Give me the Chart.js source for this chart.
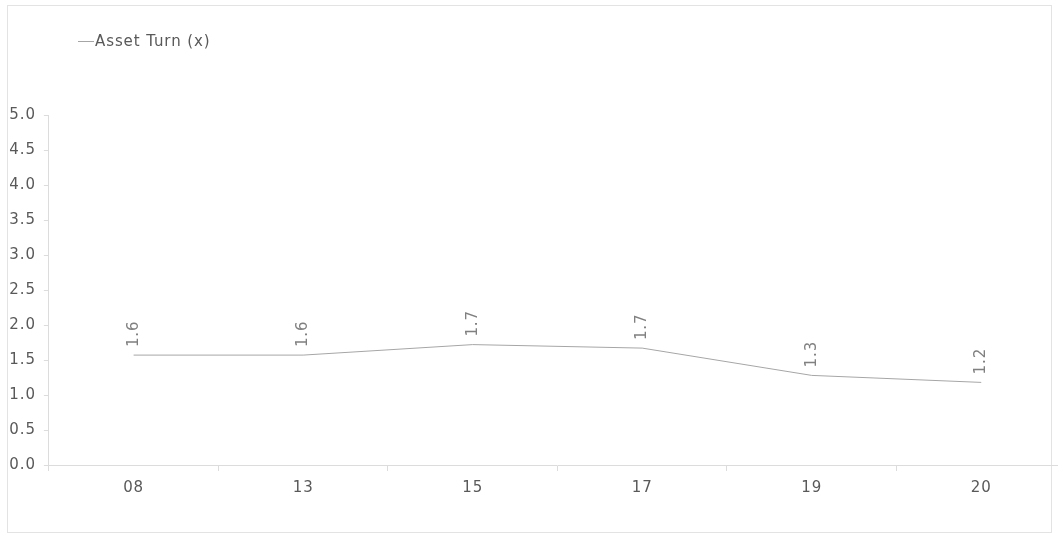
<!DOCTYPE html>
<html lang="en">
  <head>
    <meta charset="utf-8">
    <title>Asset Turn</title>
    <script src="https://cdn.jsdelivr.net/npm/chart.js"></script>
    <style>
      html, body {
        margin: 0;
        padding: 0;
        background: #fff;
        overflow: hidden;
      }
      #frame {
        position: absolute;
        left: 7px;
        top: 5px;
        width: 1043px;
        height: 526px;
        border: 1px solid #e3e3e3;
      }
      #wrap {
        position: absolute;
        left: 0;
        top: 0;
        width: 1066px;
        height: 533px;
      }
    </style>
  </head>
  <body>
    <div id="frame"></div>
    <div id="wrap"><canvas id="chart"></canvas></div>

    <script>
      // Data
      const years = ["08", "13", "15", "17", "19", "20"];
      const assetTurn = [1.57, 1.57, 1.72, 1.67, 1.28, 1.18];
      const seriesName = "Asset Turn (x)";

      const FONT = "'DejaVu Sans', Verdana, sans-serif";
      const FONT_SIZE = 15;
      const SPACING = "0.9px";
      const AXIS_COLOR = "#dcdcdc";
      const TEXT_COLOR = "#595959";
      const LINE_COLOR = "#a6a6a6";

      // Wider text, like the original renderer
      const spacing = {
        id: "spacing",
        beforeDraw(chart) {
          chart.ctx.letterSpacing = SPACING;
        }
      };

      // Rotated value labels above each point
      const valueLabels = {
        id: "valueLabels",
        afterDatasetsDraw(chart) {
          const ctx = chart.ctx;
          const meta = chart.getDatasetMeta(0);
          ctx.save();
          ctx.letterSpacing = SPACING;
          ctx.font = FONT_SIZE + "px " + FONT;
          ctx.fillStyle = "#808080";
          ctx.textAlign = "left";
          ctx.textBaseline = "middle";
          meta.data.forEach((pt, i) => {
            ctx.save();
            ctx.translate(pt.x, pt.y - 8);
            ctx.rotate(-Math.PI / 2);
            ctx.fillText(assetTurn[i].toFixed(1), 0, 0);
            ctx.restore();
          });
          ctx.restore();
        }
      };

      // Simple legend in the top left corner
      const legendTopLeft = {
        id: "legendTopLeft",
        afterDraw(chart) {
          const ctx = chart.ctx;
          ctx.save();
          ctx.letterSpacing = SPACING;
          ctx.strokeStyle = LINE_COLOR;
          ctx.lineWidth = 1;
          ctx.beginPath();
          ctx.moveTo(78, 41.5);
          ctx.lineTo(94, 41.5);
          ctx.stroke();
          ctx.font = FONT_SIZE + "px " + FONT;
          ctx.fillStyle = TEXT_COLOR;
          ctx.textBaseline = "middle";
          ctx.fillText(seriesName, 95, 42);
          ctx.restore();
        }
      };

      new Chart(document.getElementById("chart").getContext("2d"), {
        type: "line",
        data: {
          labels: years,
          datasets: [{
            label: seriesName,
            data: assetTurn,
            borderColor: LINE_COLOR,
            borderWidth: 1,
            pointRadius: 0,
            tension: 0,
            fill: false
          }]
        },
        options: {
          animation: false,
          responsive: true,
          maintainAspectRatio: false,
          layout: { padding: { top: 115, left: 4, right: 0, bottom: 28 } },
          plugins: {
            legend: { display: false },
            tooltip: { enabled: false }
          },
          scales: {
            x: {
              offset: true,
              grid: {
                offset: true,
                drawOnChartArea: false,
                color: AXIS_COLOR,
                tickLength: 6
              },
              border: { color: AXIS_COLOR },
              ticks: {
                color: TEXT_COLOR,
                font: { family: FONT, size: FONT_SIZE },
                padding: 8
              }
            },
            y: {
              min: 0,
              max: 5,
              grid: {
                drawOnChartArea: false,
                color: AXIS_COLOR,
                tickLength: 5
              },
              border: { color: AXIS_COLOR },
              ticks: {
                stepSize: 0.5,
                color: TEXT_COLOR,
                font: { family: FONT, size: FONT_SIZE },
                padding: 8,
                callback: v => v.toFixed(1)
              }
            }
          }
        },
        plugins: [spacing, valueLabels, legendTopLeft]
      });
    </script>
  </body>
</html>
